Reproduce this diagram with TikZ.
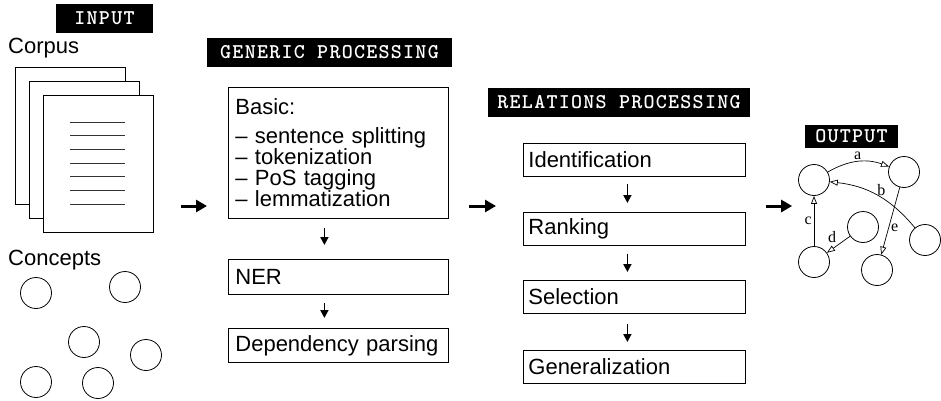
\documentclass[tikz,border=0pt]{standalone}
\usepackage{fontspec}
\setmainfont{Liberation Sans}
\newfontfamily\edgefont{Liberation Serif}
\newfontfamily\tagfont{lmmonolt10-bold.otf}[LetterSpace=6]
\usetikzlibrary{arrows.meta}

\tikzset{
  tagbox/.style={fill=black, text=white, inner sep=0pt, minimum height=29pt,
    font=\tagfont\fontsize{21}{21}\selectfont},
  txt/.style={font=\fontsize{22}{20.5}\selectfont, inner sep=0pt},
  page/.style={draw, fill=white, line width=0.8pt, minimum width=110pt, minimum height=137pt, inner sep=0pt},
  concept/.style={draw, circle, line width=0.8pt, minimum size=31pt, inner sep=0pt},
  stagebox/.style={draw, line width=0.8pt, inner xsep=7pt, text width=206pt, align=left,
    font=\fontsize{22}{20.5}\selectfont},
  relbox/.style={stagebox, inner xsep=5pt, text width=212pt, minimum height=33pt},
  flow/.style={-{Triangle[length=8pt, width=8pt]}, line width=1.8pt},
  bigflow/.style={-{Triangle[length=11pt, width=12pt]}, line width=3pt},
  rel/.style={-{Triangle[open, length=8pt, width=6pt]}, line width=0.7pt},
  elabel/.style={font=\edgefont\fontsize{16}{16}\selectfont, inner sep=2pt}
}

\begin{document}
\begin{tikzpicture}[x=1pt, y=-1pt]
  \useasboundingbox (0,0) rectangle (941,400);

  % Đầu vào
  \node[tagbox, minimum width=97pt] (intag) at (104.5,18.5) {INPUT};
  \node[txt, anchor=base west] (corpus) at (8,53) {Corpus};
  \foreach \i in {0,1,2}
    \node[page, anchor=north west] (page\i) at ({15+14*\i},{67+14*\i}) {};
  \foreach \k in {0,...,6}
    \draw[line width=0.8pt, black!80] (70,{122+13.67*\k}) -- (125,{122+13.67*\k});
  \node[txt, anchor=base west] (concepts) at (8,265) {Concepts};
  \foreach \x/\y [count=\n] in {36/293, 125/287, 84/342, 146/355, 36/382, 98/383}
    \node[concept] (c\n) at (\x,\y) {};

  % Xử lý chung
  \node[tagbox, minimum width=245pt] (gentag) at (329.5,52.5) {GENERIC PROCESSING};
  \node[stagebox, minimum height=131pt, anchor=north west] (basic) at (228,87)
    {Basic:\\[8pt]-- sentence splitting\\-- tokenization\\-- PoS tagging\\-- lemmatization};
  \node[stagebox, minimum height=35pt, anchor=north west] (ner) at (228,259) {NER};
  \node[stagebox, minimum height=34pt, anchor=north west] (dep) at (228,328) {Dependency parsing};
  \draw[flow, shorten <=9pt, shorten >=14pt] ([xshift=-14pt]basic.south) -- ([xshift=-14pt]ner.north);
  \draw[flow, shorten <=8pt, shorten >=10pt] ([xshift=-14pt]ner.south) -- ([xshift=-14pt]dep.north);

  % Xử lý quan hệ
  \node[tagbox, minimum width=262pt] (reltag) at (619,102.5) {RELATIONS PROCESSING};
  \node[relbox, anchor=north west] (ident) at (523,143) {Identification};
  \node[relbox, anchor=north west] (rank) at (523,212) {Ranking};
  \node[relbox, anchor=north west] (select) at (523,280) {Selection};
  \node[relbox, anchor=north west] (general) at (523,350) {Generalization};
  \draw[flow, shorten <=7pt, shorten >=9pt] ([xshift=-7pt]ident.south) -- ([xshift=-7pt]rank.north);
  \draw[flow, shorten <=8pt, shorten >=8pt] ([xshift=-7pt]rank.south) -- ([xshift=-7pt]select.north);
  \draw[flow, shorten <=10pt, shorten >=8pt] ([xshift=-7pt]select.south) -- ([xshift=-7pt]general.north);

  % Đầu ra
  \node[tagbox, minimum width=93pt, minimum height=23pt] (outtag) at (851.5,136.5) {OUTPUT};
  \foreach \x/\y [count=\n] in {814/180, 904/172, 863/227, 925/240, 814/262, 877/270}
    \node[concept] (g\n) at (\x,\y) {};
  \draw[rel] (g1) to[bend left=25] node[elabel, above] {a} (g2);
  \draw[rel] (g4) to[bend right=22] node[elabel, above, pos=0.45] {b} (g1);
  \draw[rel] (g5) -- node[elabel, left] {c} (g1);
  \draw[rel] (g3) -- node[elabel, above left] {d} (g5);
  \draw[rel] (g2) -- node[elabel, right, pos=0.6] {e} (g6);

  % Mũi tên giữa các bước
  \coordinate (row) at (0,206);
  \draw[bigflow, shorten <=27pt, shorten >=21pt] (page2.east |- row) -- (basic.west |- row);
  \draw[bigflow, shorten <=20pt, shorten >=27pt] (basic.east |- row) -- (ident.west |- row);
  \draw[bigflow, shorten <=20pt, shorten >=6pt] (ident.east |- row) -- (g1.west |- row);
\end{tikzpicture}
\end{document}
